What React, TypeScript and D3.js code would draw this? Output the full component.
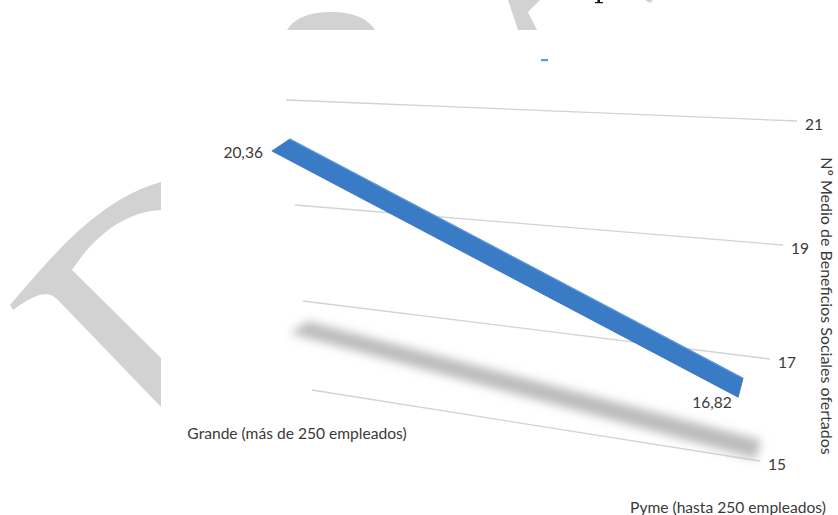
import React from "react";
import * as d3 from "d3";

// ---- data ----
const categories = ["Grande (más de 250 empleados)", "Pyme (hasta 250 empleados)"];
const values = [20.36, 16.82];
const valueLabels = ["20,36", "16,82"];
const tickValues = [15, 17, 19, 21];
const tickLabels = ["15", "17", "19", "21"];
const axisTitle = "Nº Medio de Beneficios Sociales ofertados";

const W = 838;
const H = 515;
const FONT = "Lato, 'Open Sans', 'DejaVu Sans', sans-serif";
const TEXT = "#3a3a3a";

export default function App() {
  // perspective wall: value -> screen position on the left / right edges
  const yL = d3.scaleLinear().domain(tickValues).range([390, 301, 205, 100]);
  const xL = d3.scaleLinear().domain(tickValues).range([312, 303, 295, 286]);
  const yR = d3.scaleLinear().domain(tickValues).range([461, 359, 245, 121]);
  const xR = d3.scaleLinear().domain(tickValues).range([760, 770, 783, 797]);
  const u = d3.scalePoint<string>().domain(categories).range([0, 1]);

  const wall = (t: number, v: number): [number, number] => [
    d3.interpolateNumber(xL(v), xR(v))(t),
    d3.interpolateNumber(yL(v), yR(v))(t),
  ];
  const backOff = d3.interpolateArray([1, 5.4], [-26, 10]);
  const frontVec = d3.interpolateArray([-18, 12], [-5, 19]);
  const shadowDrop = d3.scaleLinear().domain([15, 21]).range([0, 204]);

  const back = categories.map((c, i) => {
    const t = u(c) as number;
    const p = wall(t, values[i]);
    const o = backOff(t) as number[];
    return [p[0] + o[0], p[1] + o[1]] as [number, number];
  });
  const front = categories.map((c, i) => {
    const t = u(c) as number;
    const f = frontVec(t) as number[];
    return [back[i][0] + f[0], back[i][1] + f[1]] as [number, number];
  });

  const ribbonPts: [number, number][] = [back[0], back[1], front[1], front[0]];
  const shadowPts: [number, number][] = ribbonPts.map((p, k) => {
    const i = k === 0 || k === 3 ? 0 : 1;
    return [p[0] + 18, p[1] + shadowDrop(values[i])] as [number, number];
  });
  const poly = d3.line().curve(d3.curveLinearClosed);

  return (
    <svg
      width={W}
      height={H}
      viewBox={`0 0 ${W} ${H}`}
      style={{ position: "absolute", left: 0, top: 0, background: "#fff" }}
    >
      <defs>
        <filter id="blur" x="-20%" y="-50%" width="140%" height="200%">
          <feGaussianBlur stdDeviation="5" />
        </filter>
        <linearGradient id="rib" gradientUnits="userSpaceOnUse" x1="0" y1="0" x2="8" y2="16">
          <stop offset="0" stopColor="#5193dc" />
          <stop offset="1" stopColor="#3a7bc6" />
        </linearGradient>
      </defs>

      {/* watermark fragments visible outside the chart area */}
      <g fill="#d2d2d2">
        <path d="M13,310 L10,305 C45,265 95,200 161,182 L161,210 C125,212 95,235 72,270 L161,358 L161,407 L58,300 C50,292 40,290 13,310 Z" />
        <path d="M287,30 C295,17 312,12 331,12 C350,12 367,17 375,30 Z" />
        <path d="M508,0 L540,0 L528,12 L537,30 L518,30 Z" />
        <path d="M645,0 L653,0 L650,3 Z" />
      </g>
      <g fill="#111">
        <rect x={597.5} y={0} width={2.5} height={3} />
        <rect x={595} y={2} width={8} height={1.2} />
      </g>

      {/* legend remnant */}
      <rect x={541} y={59} width={7} height={2.2} fill="#5b9bd5" />

      {/* gridlines */}
      <g stroke="#d3d3d3" strokeWidth={1.3} fill="none">
        {tickValues.map((v) => {
          const a = wall(0, v);
          const b = wall(1, v);
          return <line key={v} x1={a[0]} y1={a[1]} x2={b[0]} y2={b[1]} />;
        })}
      </g>

      {/* tick labels */}
      <g fontFamily={FONT} fontSize={15.5} fill={TEXT}>
        {tickValues.map((v, i) => {
          const b = wall(1, v);
          return (
            <text key={v} x={b[0] + 8} y={b[1] + 3} dominantBaseline="central">
              {tickLabels[i]}
            </text>
          );
        })}
      </g>

      {/* shadow */}
      <path d={poly(shadowPts) || ""} fill="#bcbcbc" filter="url(#blur)" />

      {/* ribbon */}
      <path d={poly(ribbonPts) || ""} fill="url(#rib)" stroke="#3471ba" strokeWidth={0.8} strokeLinejoin="round" />
      <line x1={back[0][0]} y1={back[0][1]} x2={back[1][0]} y2={back[1][1]} stroke="#62a0e2" strokeWidth={1.2} />

      {/* data labels */}
      <g fontFamily={FONT} fontSize={15.5} fill={TEXT}>
        <text x={front[0][0] - 9} y={front[0][1] + 1} textAnchor="end" dominantBaseline="central">
          {valueLabels[0]}
        </text>
        <text x={front[1][0] - 26} y={front[1][1] + 5} textAnchor="middle" dominantBaseline="central">
          {valueLabels[1]}
        </text>
      </g>

      {/* category labels */}
      <g fontFamily={FONT} fontSize={15.6} fill={TEXT} textAnchor="middle">
        {categories.map((c) => {
          const p = wall(u(c) as number, 15);
          const off = (d3.interpolateArray([-15, 43], [-32, 46])(u(c) as number)) as number[];
          return (
            <text key={c} x={p[0] + off[0]} y={p[1] + off[1]} dominantBaseline="central">
              {c}
            </text>
          );
        })}
      </g>

      {/* axis title */}
      <text
        transform="translate(827,306) rotate(90)"
        textAnchor="middle"
        dominantBaseline="central"
        fontFamily={FONT}
        fontSize={16}
        fill={TEXT}
      >
        {axisTitle}
      </text>
    </svg>
  );
}
